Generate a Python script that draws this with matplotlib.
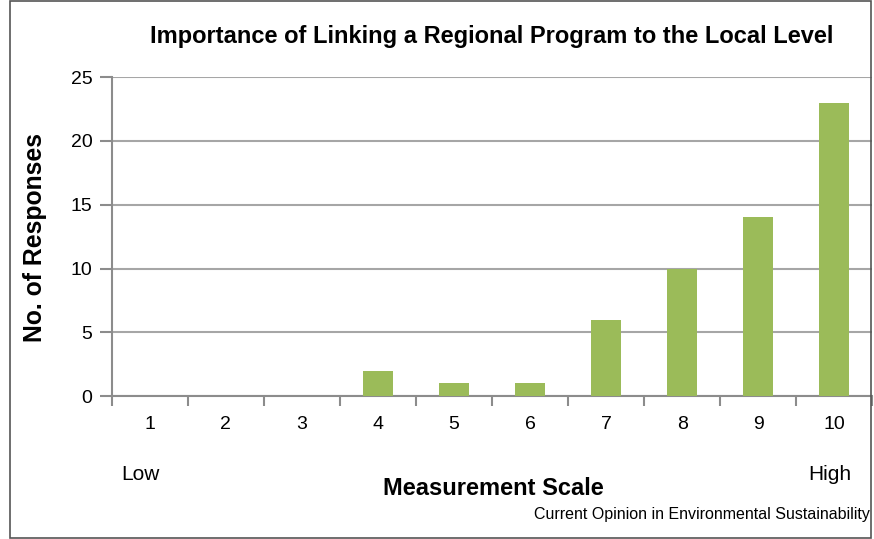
import numpy as np
import matplotlib.pyplot as plt
from matplotlib.patches import Rectangle

plt.rcParams['font.family'] = ['Liberation Sans', 'DejaVu Sans']

scale = ['1', '2', '3', '4', '5', '6', '7', '8', '9', '10']
responses = [0, 0, 0, 2, 1, 1, 6, 10, 14, 23]

fig = plt.figure(figsize=(8.74, 5.39), dpi=100)
ax = fig.add_axes([0.128, 0.265, 0.87, 0.592])

x = np.arange(len(scale))
ax.bar(x, responses, width=0.4, color='#9BBB59', zorder=3)

ax.set_xlim(-0.5, len(scale) - 0.5)
ax.set_ylim(0, 25)
ax.set_yticks(range(0, 26, 5))
ax.set_xticks(x)
ax.set_xticklabels(scale)
ax.set_xticks(np.arange(-0.5, len(scale), 1), minor=True)
ax.tick_params(axis='x', which='major', length=0, pad=14, labelsize=14)
ax.tick_params(axis='x', which='minor', length=7, width=1.5, color='#8c8c8c', direction='out')
ax.tick_params(axis='y', length=9, width=1.5, color='#8c8c8c', labelsize=14, pad=5)

ax.grid(axis='y', color='#a6a6a6', linewidth=1.5, zorder=0)
for side in ['top', 'right']:
    ax.spines[side].set_visible(False)
for side in ['left', 'bottom']:
    ax.spines[side].set_color('#8c8c8c')
    ax.spines[side].set_linewidth(1.5)

fig.text(0.5625, 0.932, 'Importance of Linking a Regional Program to the Local Level',
         ha='center', va='center', fontsize=17, fontweight='bold')
fig.text(0.040, 0.56, 'No. of Responses', rotation=90, ha='center', va='center',
         fontsize=17.8, fontweight='bold')
fig.text(0.564, 0.094, 'Measurement Scale', ha='center', va='center',
         fontsize=17, fontweight='bold')
fig.text(0.161, 0.119, 'Low', ha='center', va='center', fontsize=15)
fig.text(0.950, 0.119, 'High', ha='center', va='center', fontsize=15)
fig.text(0.995, 0.046, 'Current Opinion in Environmental Sustainability', ha='right',
         va='center', fontsize=11.5)

fig.patches.append(Rectangle((0.011, 0.002), 0.986, 0.996, transform=fig.transFigure,
                             fill=False, edgecolor='#555555', linewidth=1.2))

fig.savefig('out.png', dpi=100)
